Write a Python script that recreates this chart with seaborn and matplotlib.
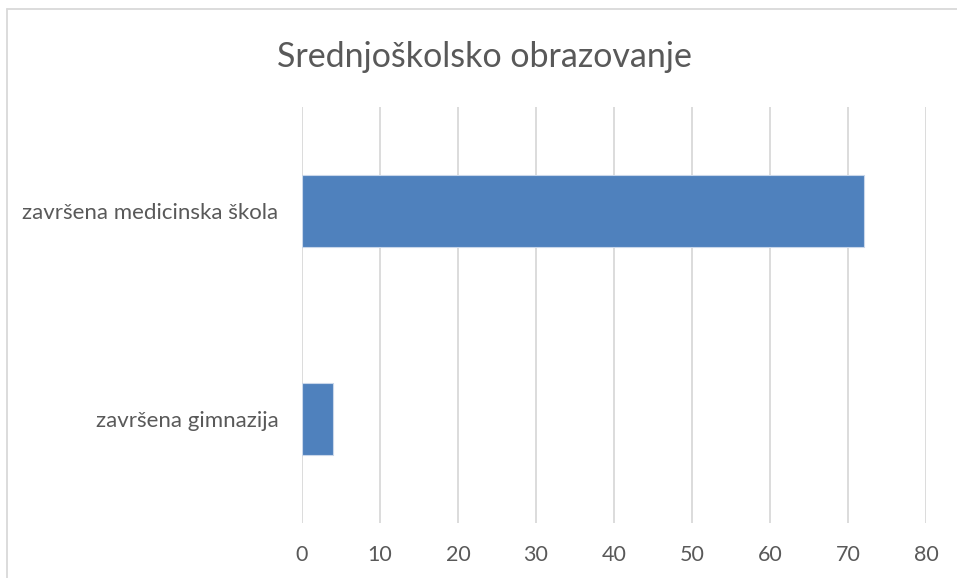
import matplotlib
matplotlib.use("Agg")
import matplotlib.pyplot as plt
import seaborn as sns
import pandas as pd
from matplotlib.lines import Line2D

categories = ["završena medicinska škola", "završena gimnazija"]
values = [72, 4]
xticks = [0, 10, 20, 30, 40, 50, 60, 70, 80]
title = "Srednjoškolsko obrazovanje"

sns.set_theme(style="white")
plt.rcParams['font.family'] = ['Lato', 'DejaVu Sans']

df = pd.DataFrame({"cat": categories, "val": values})

fig = plt.figure(figsize=(9.57, 5.78), dpi=100)
ax = fig.add_axes([0.3156, 0.0952, 0.652, 0.7197])
sns.barplot(data=df, x="val", y="cat", orient="h", width=0.35,
            color="#4f81bd", edgecolor="#c9d7ea", linewidth=0.8,
            saturation=1, ax=ax, zorder=3)
ax.set_xlim(0, 80)
ax.set_ylim(1.5, -0.5)
ax.set_xticks(xticks)
ax.set_xticklabels([str(t) for t in xticks])
ax.xaxis.grid(True, color="#d9d9d9", linewidth=1.3, zorder=0)
ax.set_axisbelow(True)
for s in ax.spines.values():
    s.set_visible(False)
ax.set_xlabel("")
ax.set_ylabel("")
ax.tick_params(axis="x", length=0, pad=16, labelsize=15.5, colors="#595959")
ax.tick_params(axis="y", length=0, pad=17, labelsize=16, colors="#595959")

fig.text(0.506, 0.902, title, ha="center", va="center", fontsize=24.5, color="#595959")

# outer chart border (left and top visible)
fig.add_artist(Line2D([7/957, 7/957], [0, 1 - 9/578], transform=fig.transFigure,
                      color="#d9d9d9", linewidth=1.3))
fig.add_artist(Line2D([7/957, 1], [1 - 9/578, 1 - 9/578], transform=fig.transFigure,
                      color="#d9d9d9", linewidth=1.3))

fig.savefig("out.png", dpi=100)
